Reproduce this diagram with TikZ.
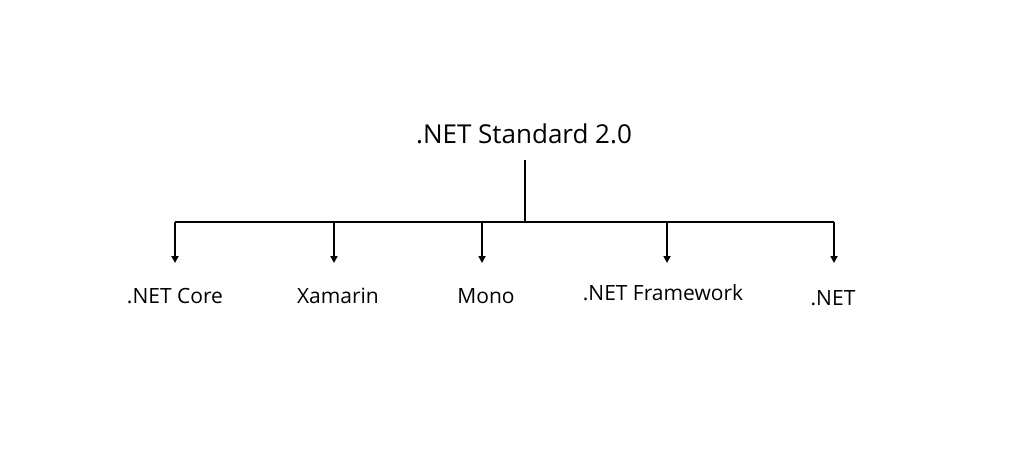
\documentclass[tikz,border=0pt]{standalone}
\usepackage{fontspec}
\setmainfont{Open Sans}
\usetikzlibrary{arrows.meta}
\begin{document}
\begin{tikzpicture}[x=1pt,y=-1pt,
  conn/.style={line width=2.6pt,-{Triangle[width=7pt,length=7pt]}},
  bar/.style={line width=2.6pt},
  lbl/.style={anchor=base,inner sep=0pt,font=\fontsize{21}{24}\selectfont},
  ttl/.style={anchor=base,inner sep=0pt,font=\fontsize{26}{30}\selectfont}]
\useasboundingbox[fill=white] (0,0) rectangle (1024,448);
\node[ttl] (std) at (524,143) {.NET Standard 2.0};
\coordinate (top) at (525,160);
\coordinate (j) at (525,222);
\coordinate (a1) at (175,263);
\coordinate (a2) at (334,263);
\coordinate (a3) at (482,263);
\coordinate (a4) at (667,263);
\coordinate (a5) at (834,263);
\node[lbl] (core) at (175,303) {.NET Core};
\node[lbl] (xam) at (338,303) {Xamarin};
\node[lbl] (mono) at (486,303) {Mono};
\node[lbl] (fw) at (663,300) {.NET Framework};
\node[lbl] (net) at (833,305) {.NET};
\draw[bar] (top) -- (j);
\draw[bar] (a1 |- j) -- (a5 |- j);
\foreach \a in {a1,a2,a3,a4,a5}{
  \draw[conn] (\a |- j) -- (\a);
}
\end{tikzpicture}
\end{document}
